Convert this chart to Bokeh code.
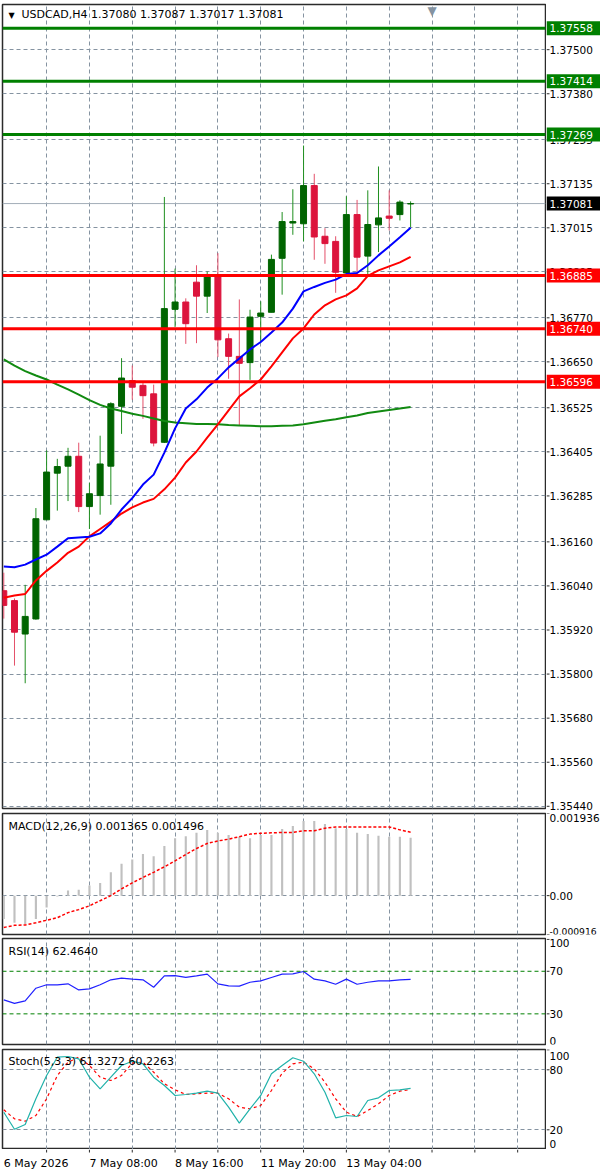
from bokeh.plotting import figure
from bokeh.models import Range1d, Span, Label, FixedTicker
from bokeh.layouts import column, row
from bokeh.core.properties import value
from bokeh.embed import file_html
from bokeh.resources import INLINE

# ---------------- data ----------------
symbol = "USDCAD,H4"
header_ohlc = "1.37080 1.37087 1.37017 1.37081"

opens = [1.36027, 1.36000, 1.35909, 1.35950, 1.36220, 1.36347, 1.36366, 1.36393, 1.36256, 1.36286,
         1.36366, 1.36529, 1.36599, 1.36586, 1.36563, 1.36431, 1.36793, 1.36813, 1.36867, 1.36829,
         1.36883, 1.36713, 1.36665, 1.36648, 1.36774, 1.36785, 1.36932, 1.37028, 1.37026, 1.37130,
         1.36992, 1.36978, 1.36892, 1.37051, 1.36938, 1.37023, 1.37047, 1.37051, 1.37080]
highs = [1.36076, 1.36006, 1.36043, 1.36252, 1.36409, 1.36386, 1.36416, 1.36430, 1.36321, 1.36449,
         1.36540, 1.36660, 1.36640, 1.36597, 1.36588, 1.37099, 1.36904, 1.36823, 1.36913, 1.36896,
         1.36946, 1.36727, 1.36820, 1.36792, 1.36815, 1.36942, 1.37058, 1.37120, 1.37239, 1.37162,
         1.37014, 1.36992, 1.37101, 1.37091, 1.37117, 1.37182, 1.37117, 1.37090, 1.37087]
lows = [1.35951, 1.35823, 1.35775, 1.35948, 1.36220, 1.36245, 1.36271, 1.36241, 1.36195, 1.36234,
        1.36261, 1.36454, 1.36547, 1.36495, 1.36420, 1.36429, 1.36745, 1.36699, 1.36701, 1.36783,
        1.36663, 1.36604, 1.36477, 1.36601, 1.36704, 1.36785, 1.36833, 1.36996, 1.36978, 1.36928,
        1.36917, 1.36838, 1.36892, 1.36890, 1.36887, 1.36949, 1.37008, 1.37035, 1.37017]
closes = [1.35987, 1.35914, 1.35957, 1.36223, 1.36350, 1.36365, 1.36393, 1.36256, 1.36291, 1.36372,
          1.36536, 1.36606, 1.36581, 1.36558, 1.36429, 1.36795, 1.36813, 1.36754, 1.36829, 1.36883,
          1.36710, 1.36665, 1.36646, 1.36772, 1.36783, 1.36929, 1.37032, 1.37032, 1.37130, 1.36990,
          1.36972, 1.36894, 1.37051, 1.36935, 1.37024, 1.37042, 1.37041, 1.37085, 1.37081]

ma_fast = [1.36093, 1.36091, 1.36098, 1.36112, 1.36125, 1.36147, 1.36170, 1.36172, 1.36174, 1.36183,
           1.36210, 1.36248, 1.36279, 1.36316, 1.36343, 1.36403, 1.36469, 1.36523, 1.36548, 1.36580,
           1.36605, 1.36635, 1.36659, 1.36684, 1.36704, 1.36730, 1.36757, 1.36795, 1.36842, 1.36854,
           1.36865, 1.36874, 1.36889, 1.36892, 1.36913, 1.36940, 1.36964, 1.36989, 1.37015]
ma_mid = [1.36008, 1.36014, 1.36018, 1.36055, 1.36081, 1.36104, 1.36130, 1.36147, 1.36175, 1.36195,
          1.36215, 1.36237, 1.36254, 1.36267, 1.36277, 1.36303, 1.36335, 1.36376, 1.36406, 1.36444,
          1.36480, 1.36518, 1.36556, 1.36578, 1.36602, 1.36638, 1.36676, 1.36714, 1.36741, 1.36779,
          1.36804, 1.36820, 1.36831, 1.36850, 1.36884, 1.36899, 1.36910, 1.36921, 1.36936]
ma_slow = [1.36657, 1.36640, 1.36625, 1.36613, 1.36602, 1.36588, 1.36575, 1.36561, 1.36546, 1.36533,
           1.36523, 1.36516, 1.36509, 1.36503, 1.36496, 1.36489, 1.36485, 1.36483, 1.36481, 1.36481,
           1.36480, 1.36478, 1.36477, 1.36476, 1.36475, 1.36475, 1.36476, 1.36477, 1.36480, 1.36485,
           1.36490, 1.36494, 1.36499, 1.36504, 1.36511, 1.36515, 1.36519, 1.36523, 1.36527]

macd_main = [-0.00055, -0.00064, -0.00067, -0.00055, -0.00028, -0.00002, 0.00012, 0.00014, 0.00024, 0.00030,
             0.00055, 0.00075, 0.00085, 0.00098, 0.00093, 0.00117, 0.00135, 0.00140, 0.00148, 0.00155,
             0.00148, 0.00143, 0.00139, 0.00135, 0.00143, 0.00143, 0.00157, 0.00164, 0.00176, 0.00176,
             0.00169, 0.00159, 0.00157, 0.00148, 0.00145, 0.00141, 0.00139, 0.00139, 0.001365]
macd_signal = [-0.00075, -0.00070, -0.00069, -0.00064, -0.00058, -0.00052, -0.00040, -0.00033, -0.00024, -0.00012,
               0.00000, 0.00016, 0.00030, 0.00043, 0.00055, 0.00068, 0.00082, 0.00097, 0.00111, 0.00123,
               0.00129, 0.00133, 0.00139, 0.00145, 0.00147, 0.00148, 0.00149, 0.00149, 0.00153, 0.00153,
               0.00159, 0.00162, 0.00162, 0.00162, 0.00162, 0.00162, 0.00162, 0.00155, 0.001496]

rsi = [43.1, 39.9, 42.2, 54.1, 57.3, 57.3, 58.2, 52.5, 53.5, 57.3,
       62.0, 63.5, 62.6, 62.0, 55.0, 65.7, 65.9, 64.2, 65.7, 67.3,
       58.2, 56.3, 56.0, 59.7, 61.0, 64.2, 67.3, 67.6, 69.8, 62.6,
       61.0, 57.8, 62.6, 57.8, 59.7, 61.0, 61.0, 62.0, 62.464]

stoch_main = [37.6, 20.6, 25.3, 51.0, 74.3, 92.6, 93.3, 91.0, 72.6, 61.0,
              72.6, 84.3, 88.6, 86.0, 72.6, 64.3, 54.3, 55.3, 56.6, 58.6,
              56.6, 42.6, 26.6, 41.0, 54.3, 76.0, 84.3, 92.0, 88.6, 76.0,
              57.6, 32.0, 34.3, 33.3, 49.3, 52.0, 59.3, 60.0, 61.33]
stoch_signal = [40.0, 31.0, 28.6, 34.3, 51.0, 74.3, 87.6, 92.6, 84.3, 72.6,
                69.3, 74.3, 86.6, 87.6, 77.6, 66.0, 60.0, 55.3, 56.0, 56.6,
                56.6, 51.0, 42.6, 41.0, 44.3, 59.3, 76.6, 86.0, 87.6, 81.0,
                67.6, 51.0, 37.6, 33.3, 39.3, 46.0, 54.3, 58.6, 60.23]

price_ticks = [1.37500, 1.37380, 1.37255, 1.37135, 1.37015, 1.36895, 1.36770, 1.36650, 1.36525,
               1.36405, 1.36285, 1.36160, 1.36040, 1.35920, 1.35800, 1.35680, 1.35560, 1.35440]
resistance_levels = [1.37558, 1.37414, 1.37269]
support_levels = [1.36885, 1.36740, 1.36596]
last_price = 1.37081

time_tick_index = [0, 8, 16, 24, 32]
time_tick_labels = ["6 May 2026", "7 May 08:00", "8 May 16:00", "11 May 20:00", "13 May 04:00"]

macd_title = "MACD(12,26,9) 0.001365 0.001496"
macd_max, macd_min = 0.001936, -0.000916
rsi_title = "RSI(14) 62.4640"
rsi_levels = [70, 30]
rsi_ticks = [100, 70, 30, 0]
stoch_title = "Stoch(5,3,3) 61.3272 60.2263"
stoch_levels = [80, 20]
stoch_ticks = [100, 80, 20, 0]

# ---------------- style / layout ----------------
FONT = "DejaVu Sans"
FS = "11px"
SFS = "10.5px"
GRID = "#8593a1"
FRAME_W = 543
SCALE_W = 54
BORDER = "#2b2b2b"
BULL, BULL_WICK = "#006400", "#1f8f1f"
BEAR, BEAR_WICK = "#dc143c", "#e4506a"
x_range = Range1d(-0.12, 50.6)
grid_x = list(range(4, 51, 4))
idx = list(range(len(closes)))
PRICE_LO, PRICE_HI = 1.35434, 1.37623


def make_fig(frame_h, y_range, top=2, bottom=2):
    p = figure(frame_width=FRAME_W, frame_height=frame_h,
               x_range=x_range, y_range=y_range,
               output_backend="svg", toolbar_location=None,
               x_axis_location=None, y_axis_location=None,
               min_border_left=2, min_border_right=1,
               min_border_top=top, min_border_bottom=bottom,
               background_fill_color="white", border_fill_color="white",
               outline_line_color=BORDER, outline_line_width=1.5)
    p.xgrid.ticker = FixedTicker(ticks=grid_x)
    for g in p.xgrid + p.ygrid:
        g.grid_line_color = GRID
        g.grid_line_dash = "4 3"
        g.grid_line_width = 1
        g.level = "underlay"
    return p


def make_scale(y_range, frame_h, top=2, bottom=2):
    s = figure(frame_width=SCALE_W, frame_height=frame_h,
               x_range=Range1d(0, SCALE_W), y_range=y_range,
               output_backend="svg", toolbar_location=None,
               x_axis_location=None, y_axis_location=None,
               min_border_left=0, min_border_right=0,
               min_border_top=top, min_border_bottom=bottom,
               background_fill_color="white", border_fill_color="white",
               outline_line_color=None)
    s.xgrid.visible = False
    s.ygrid.visible = False
    return s


def scale_ticks(s, ticks, labels, baselines=None, text_pos=None, sizes=None):
    """Tick marks at the tick values; labels at text_pos (defaults to the tick values)."""
    s.segment(x0=0, x1=3, y0=ticks, y1=ticks, line_color=BORDER, line_width=1)
    n = len(ticks)
    baselines = baselines or ["middle"] * n
    text_pos = text_pos or ticks
    sizes = sizes or [SFS] * n
    for t, lab, b, fs in zip(text_pos, labels, baselines, sizes):
        s.text(x=[3], y=[t], text=[lab], text_font=value(FONT), text_font_size=fs,
               text_color="black", text_baseline=b, text_align="left")


def level_box(s, lvl, color):
    s.rect(x=[SCALE_W / 2], y=[lvl], width=SCALE_W, height=14, height_units="screen",
           fill_color=color, line_color=None)
    s.text(x=[3], y=[lvl], text=[f"{lvl:.5f}"], text_font=value(FONT), text_font_size=SFS,
           text_color="white", text_baseline="middle", text_align="left")


def title(p, text, frame_h, dy=4, x=6):
    p.add_layout(Label(x=x, y=frame_h - dy, x_units="screen", y_units="screen",
                       text=text, text_font=FONT, text_font_size=FS,
                       text_color="black", text_baseline="top", text_align="left"))


# ---------------- main price panel ----------------
MAIN_H = 804
pm = make_fig(MAIN_H, Range1d(PRICE_LO, PRICE_HI), top=4, bottom=4)
pm.ygrid.ticker = FixedTicker(ticks=price_ticks)
pm.add_layout(Span(location=last_price, dimension="width", line_color="#a3adb8",
                   line_width=1, level="underlay"))

bull = [i for i in idx if closes[i] >= opens[i]]
bear = [i for i in idx if closes[i] < opens[i]]
for ids, body, wick in ((bull, BULL, BULL_WICK), (bear, BEAR, BEAR_WICK)):
    pm.segment(x0=ids, x1=ids, y0=[lows[i] for i in ids], y1=[highs[i] for i in ids],
               line_color=wick, line_width=1)
    pm.vbar(x=ids, width=0.56,
            top=[max(opens[i], closes[i]) for i in ids],
            bottom=[min(opens[i], closes[i]) for i in ids],
            fill_color=body, line_color=body, line_width=1)

pm.line(idx, ma_slow, line_color="#118a11", line_width=2)
pm.line(idx, ma_mid, line_color="#ff0000", line_width=2)
pm.line(idx, ma_fast, line_color="#0000ff", line_width=2)

for lvl in resistance_levels:
    pm.add_layout(Span(location=lvl, dimension="width", line_color="#008000", line_width=3))
for lvl in support_levels:
    pm.add_layout(Span(location=lvl, dimension="width", line_color="#ff0000", line_width=3))

pm.add_layout(Label(x=6, y=MAIN_H - 6, x_units="screen", y_units="screen", text="▼",
                    text_font=FONT, text_font_size="8px", text_color="black",
                    text_baseline="top", text_align="left"))
title(pm, f"{symbol}  {header_ohlc}", MAIN_H, dy=3, x=19)
pm.add_layout(Label(x=40, y=MAIN_H + 1, x_units="data", y_units="screen", text="▼",
                    text_font=FONT, text_font_size="12px", text_color="#8593a1",
                    text_baseline="top", text_align="center"))

# the scale frame also covers the 4px gap below the chart, so the lowest label is not cut
px_per_unit = MAIN_H / (PRICE_HI - PRICE_LO)
sm = make_scale(Range1d(PRICE_LO - 4 / px_per_unit, PRICE_HI), MAIN_H + 4, top=4, bottom=0)
scale_ticks(sm, price_ticks, [f"{t:.5f}" for t in price_ticks])
for lvl in resistance_levels:
    level_box(sm, lvl, "#008000")
for lvl in support_levels:
    level_box(sm, lvl, "#ff0000")
level_box(sm, last_price, "#000000")

# ---------------- MACD panel ----------------
MACD_H = 121
pd_ = make_fig(MACD_H, Range1d(macd_min, macd_max), top=1, bottom=2)
pd_.ygrid.ticker = FixedTicker(ticks=[0])
pd_.vbar(x=idx, width=0.2, top=macd_main, bottom=0, fill_color="#c0c0c0", line_color=None)
pd_.line(idx, macd_signal, line_color="#ff0000", line_width=1.5, line_dash="3 2")
title(pd_, macd_title, MACD_H, dy=6)
sd = make_scale(pd_.y_range, MACD_H, top=1, bottom=2)
scale_ticks(sd, [macd_max, 0, macd_min], [f"{macd_max:.6f}", "0.00", f"{macd_min:.6f}"],
            ["top", "middle", "bottom"], sizes=[SFS, SFS, "9.2px"])

# ---------------- RSI panel ----------------
RSI_H = 106
pr = make_fig(RSI_H, Range1d(1.2, 100.8), top=2, bottom=2)
pr.ygrid.ticker = FixedTicker(ticks=[])
for lvl in rsi_levels:
    pr.add_layout(Span(location=lvl, dimension="width", line_color="#008000",
                       line_width=1, line_dash="4 3"))
pr.line(idx, rsi, line_color="#2020ff", line_width=1.2)
title(pr, rsi_title, RSI_H, dy=6)
sr = make_scale(pr.y_range, RSI_H, top=2, bottom=2)
scale_ticks(sr, rsi_ticks, [str(t) for t in rsi_ticks], ["top", "middle", "middle", "bottom"],
            text_pos=[pr.y_range.end, 70, 30, pr.y_range.start])

# ---------------- Stochastic panel ----------------
ST_H = 100
ps = make_fig(ST_H, Range1d(0.3, 100.3), top=3, bottom=0)
ps.ygrid.ticker = FixedTicker(ticks=stoch_levels)
ps.line(idx, stoch_signal, line_color="#ff0000", line_width=1.2, line_dash="3 3")
ps.line(idx, stoch_main, line_color="#20b2aa", line_width=1.2)
title(ps, stoch_title, ST_H, dy=5)
ss = make_scale(ps.y_range, ST_H, top=3, bottom=0)
scale_ticks(ss, stoch_ticks, [str(t) for t in stoch_ticks], ["top", "middle", "middle", "bottom"],
            text_pos=[ps.y_range.end - 2, 80, 20, ps.y_range.start + 2])

# ---------------- time scale strip ----------------
STRIP_H = 23
pt = figure(frame_width=FRAME_W, frame_height=STRIP_H, x_range=x_range, y_range=Range1d(0, STRIP_H),
            output_backend="svg", toolbar_location=None,
            x_axis_location=None, y_axis_location=None,
            min_border_left=2, min_border_right=1 + SCALE_W, min_border_top=0, min_border_bottom=0,
            background_fill_color="white", border_fill_color="white", outline_line_color=None)
pt.xgrid.visible = False
pt.ygrid.visible = False
pt.segment(x0=grid_x, x1=grid_x, y0=STRIP_H, y1=STRIP_H - 3, line_color=BORDER, line_width=1)
pt.text(x=time_tick_index, y=[9] * len(time_tick_index), text=time_tick_labels,
        text_font=value(FONT), text_font_size=FS, text_color="black",
        text_baseline="middle", text_align="left")

layout = column(row(pm, sm, spacing=0), row(pd_, sd, spacing=0), row(pr, sr, spacing=0),
                row(ps, ss, spacing=0), pt, spacing=0)
p = layout
open("out.html", "w").write(file_html(p, INLINE))
